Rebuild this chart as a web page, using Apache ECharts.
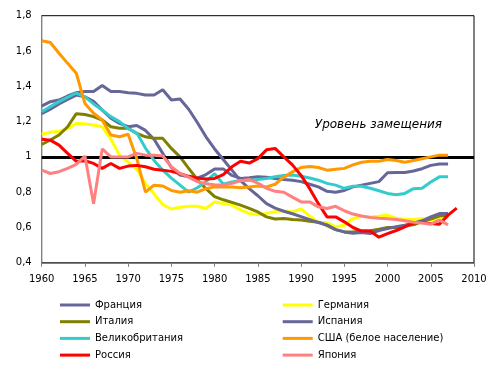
<!DOCTYPE html>
<html>
<head>
<meta charset="utf-8">
<script src="https://cdn.jsdelivr.net/npm/echarts@6/dist/echarts.min.js"></script>
<style>
html,body{margin:0;padding:0;background:#fff;}
#chart{width:500px;height:370px;}
</style>
</head>
<body>
<div id="chart"></div>
<script>
var startYear = 1960;
var xTicks = [1960, 1965, 1970, 1975, 1980, 1985, 1990, 1995, 2000, 2005, 2010];
var yTicks = [0.4, 0.6, 0.8, 1.0, 1.2, 1.4, 1.6, 1.8];
var replacementLevel = 1.0;
var replacementLabel = 'Уровень замещения';

var names = ['Франция', 'Германия', 'Италия', 'Испания', 'Великобритания', 'США (белое население)', 'Россия', 'Япония'];

var france = [1.245,1.27,1.30,1.325,1.35,1.34,1.315,1.265,1.219,1.19,
  1.171,1.178,1.15,1.10,1.02,0.94,0.897,0.887,0.88,0.90,
  0.932,0.932,0.895,0.878,0.882,0.888,0.885,0.878,0.872,0.868,
  0.86,0.845,0.83,0.805,0.80,0.81,0.83,0.84,0.85,0.86,
  0.91,0.912,0.912,0.92,0.933,0.952,0.96,0.96];
var germany = [1.128,1.14,1.145,1.16,1.19,1.186,1.181,1.17,1.10,1.01,
  0.97,0.93,0.85,0.79,0.73,0.705,0.715,0.72,0.72,0.708,
  0.745,0.736,0.727,0.70,0.68,0.672,0.68,0.69,0.695,0.688,
  0.706,0.665,0.628,0.628,0.604,0.613,0.651,0.664,0.66,0.664,
  0.67,0.652,0.645,0.645,0.651,0.643,0.645,0.66];
var italy = [1.07,1.096,1.124,1.171,1.245,1.24,1.228,1.209,1.171,1.162,
  1.162,1.133,1.114,1.105,1.105,1.048,1.0,0.935,0.872,0.82,
  0.775,0.757,0.742,0.727,0.708,0.688,0.66,0.648,0.651,0.645,
  0.642,0.636,0.63,0.61,0.588,0.575,0.575,0.58,0.582,0.59,
  0.60,0.60,0.61,0.615,0.635,0.648,0.665,0.67];
var spain = [1.288,1.313,1.322,1.345,1.364,1.37,1.37,1.404,1.37,1.37,
  1.364,1.36,1.351,1.351,1.38,1.322,1.328,1.27,1.195,1.114,
  1.045,0.985,0.925,0.865,0.82,0.78,0.735,0.71,0.692,0.678,
  0.662,0.645,0.628,0.615,0.588,0.575,0.568,0.572,0.566,0.583,
  0.594,0.604,0.613,0.626,0.638,0.66,0.679,0.679];
var uk = [1.256,1.285,1.313,1.338,1.362,1.34,1.30,1.266,1.228,1.20,
  1.16,1.135,1.05,0.98,0.925,0.88,0.84,0.80,0.825,0.86,
  0.905,0.845,0.858,0.866,0.868,0.872,0.878,0.888,0.895,0.897,
  0.89,0.88,0.868,0.85,0.84,0.822,0.834,0.834,0.822,0.808,
  0.793,0.785,0.793,0.82,0.822,0.858,0.887,0.887];
var usaWhite = [1.658,1.648,1.587,1.53,1.474,1.303,1.247,1.209,1.124,1.114,
  1.128,0.99,0.80,0.84,0.835,0.81,0.80,0.808,0.80,0.82,
  0.83,0.83,0.83,0.825,0.83,0.835,0.83,0.845,0.885,0.915,
  0.94,0.945,0.94,0.925,0.93,0.935,0.955,0.97,0.975,0.975,
  0.985,0.98,0.97,0.98,0.99,1.0,1.01,1.01];
var russia = [1.10,1.095,1.067,1.02,0.975,0.978,0.963,0.935,0.963,0.935,
  0.948,0.952,0.944,0.93,0.925,0.918,0.905,0.89,0.88,0.875,
  0.878,0.90,0.944,0.975,0.965,0.99,1.04,1.048,1.0,0.955,
  0.895,0.82,0.735,0.66,0.66,0.632,0.60,0.58,0.58,0.545,
  0.565,0.583,0.604,0.625,0.63,0.622,0.618,0.67,0.71];
var japan = [0.925,0.906,0.916,0.935,0.958,1.005,0.735,1.045,1.0,1.0,
  1.0,1.02,1.01,1.01,1.005,0.944,0.906,0.885,0.86,0.848,
  0.842,0.84,0.85,0.865,0.872,0.852,0.822,0.805,0.80,0.772,
  0.745,0.745,0.717,0.708,0.72,0.695,0.676,0.665,0.657,0.652,
  0.65,0.645,0.638,0.63,0.625,0.619,0.642,0.615];

var seriesValues = [france, germany, italy, spain, uk, usaWhite, russia, japan];
var colors = ['#666699', '#FFFF00', '#808000', '#666699', '#33CCCC', '#FF9900', '#FF0000', '#FF8080'];

function toPairs(arr) {
  return arr.map(function (v, i) { return [startYear + i, v]; });
}

var FONT = 'DejaVu Sans';
var series = names.map(function (n, i) {
  var s = {
    name: n,
    type: 'line',
    data: toPairs(seriesValues[i]),
    showSymbol: false,
    symbol: 'none',
    lineStyle: { width: 3, color: colors[i] },
    itemStyle: { color: colors[i] },
    animation: false,
    z: 2 + i
  };
  return s;
});
series.push({
  name: 'replacement',
  type: 'line',
  data: [],
  z: 20,
  markLine: {
    silent: true,
    symbol: ['none', 'none'],
    label: { show: false },
    lineStyle: { color: '#000', width: 3, type: 'solid' },
    data: [{ yAxis: replacementLevel }],
    animation: false
  }
});

var chart = echarts.init(document.getElementById('chart'), null, { renderer: 'canvas' });
var legendCommon = {
  orient: 'vertical',
  top: 297,
  padding: 0,
  itemWidth: 30,
  itemHeight: 3,
  itemGap: 0.7,
  icon: 'rect',
  selectedMode: false,
  textStyle: { fontFamily: FONT, fontSize: 10, color: '#000', lineHeight: 16 }
};
chart.setOption({
  animation: false,
  backgroundColor: '#fff',
  grid: {
    left: 41.7, right: 26, top: 15.7, bottom: 107.2,
    show: true, borderColor: '#000', borderWidth: 1, backgroundColor: 'transparent'
  },
  legend: [
    Object.assign({}, legendCommon, { left: 60, data: [names[0], names[2], names[4], names[6]] }),
    Object.assign({}, legendCommon, { left: 282.7, data: [names[1], names[3], names[5], names[7]] })
  ],
  xAxis: {
    type: 'value',
    min: xTicks[0],
    max: xTicks[xTicks.length - 1],
    interval: 5,
    splitLine: { show: false },
    axisLine: { show: true, lineStyle: { color: '#808080', width: 1 } },
    axisTick: { show: true, length: 4, lineStyle: { color: '#808080' } },
    axisLabel: { fontFamily: FONT, fontSize: 10, color: '#000', margin: 12,
      formatter: function (v) { return String(v); } }
  },
  yAxis: {
    type: 'value',
    min: yTicks[0],
    max: yTicks[yTicks.length - 1],
    interval: 0.2,
    splitLine: { show: false },
    axisLine: { show: true, lineStyle: { color: '#808080', width: 1 } },
    axisTick: { show: false },
    axisLabel: { fontFamily: FONT, fontSize: 10, color: '#000', margin: 10,
      formatter: function (v) {
        var r = Math.round(v * 10) / 10;
        return (r === 1 ? '1' : r.toFixed(1)).replace('.', ',');
      } }
  },
  graphic: [{
    type: 'text',
    x: 442,
    y: 125,
    style: {
      text: replacementLabel,
      font: 'italic 12px "DejaVu Sans"',
      fill: '#000',
      align: 'right',
      verticalAlign: 'middle'
    }
  }],
  series: series
});
</script>
</body>
</html>
